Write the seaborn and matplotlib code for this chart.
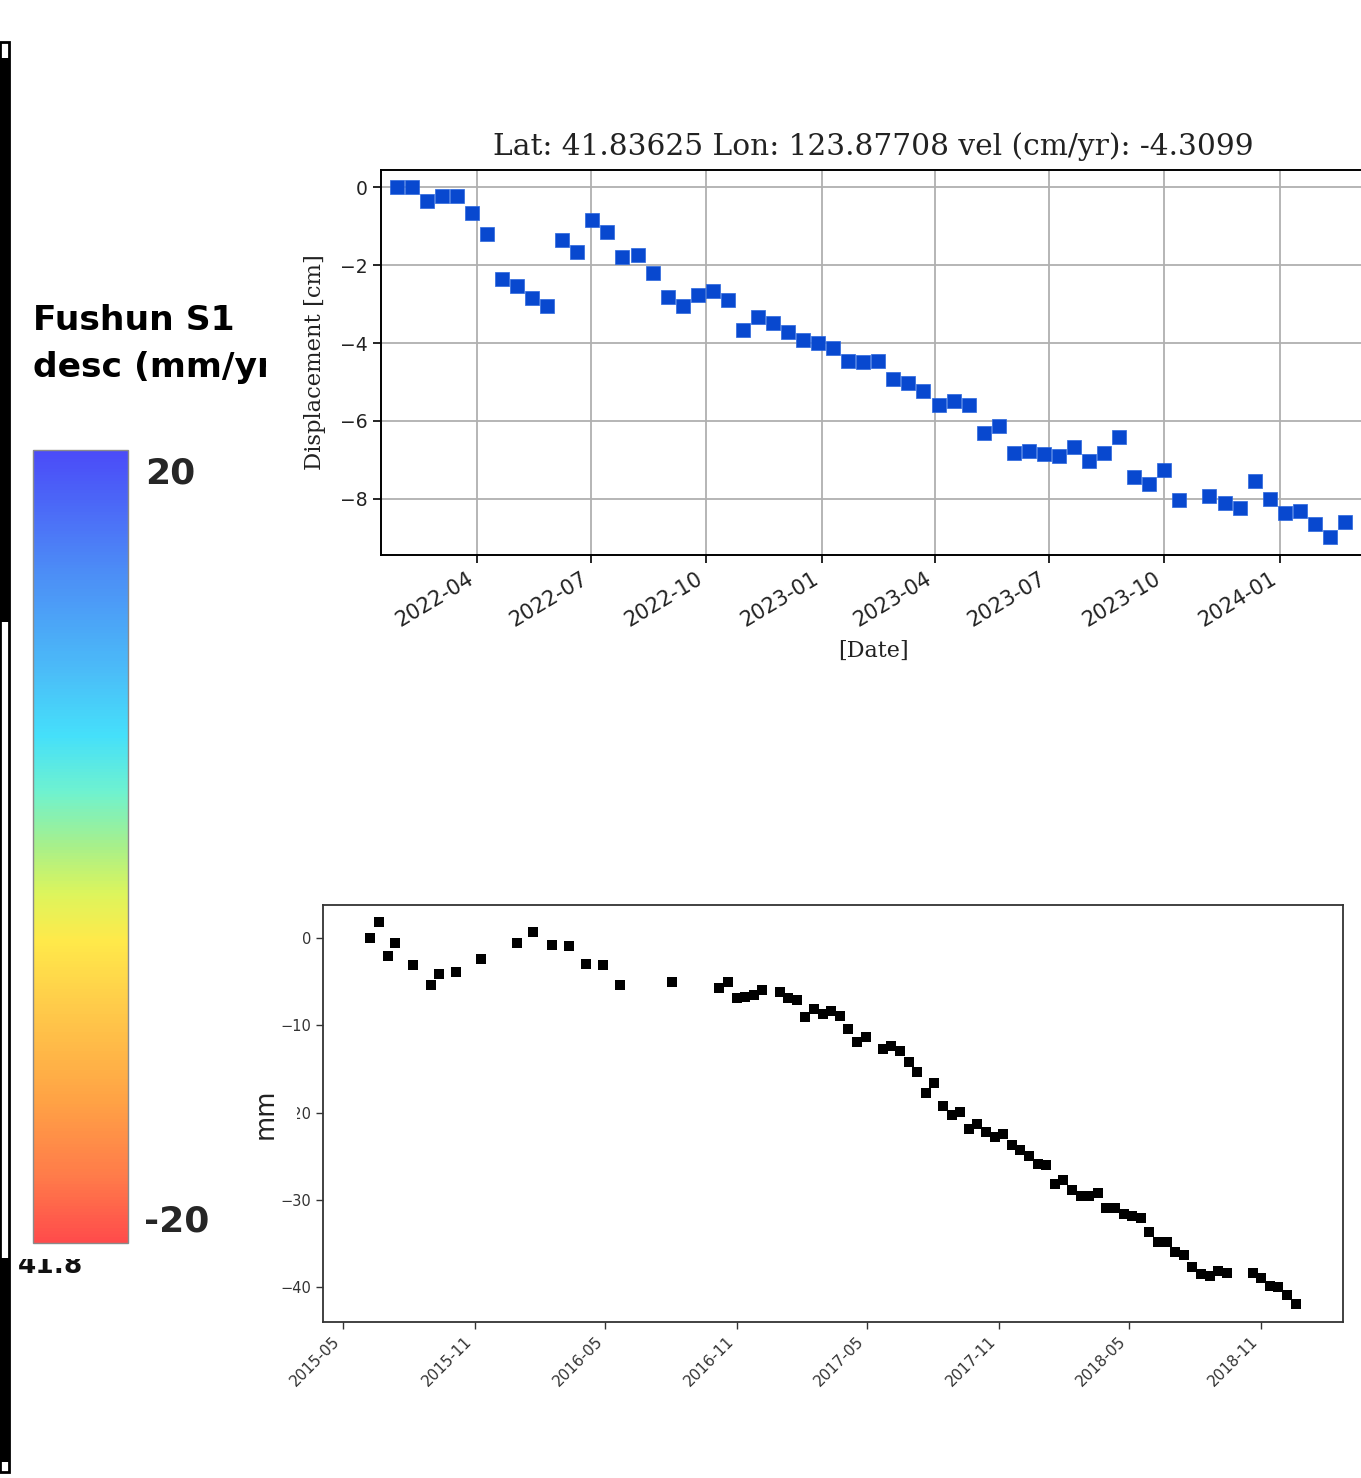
import numpy as np
import pandas as pd
import matplotlib
matplotlib.use("Agg")
import matplotlib.pyplot as plt
import matplotlib.dates as mdates
import matplotlib.colorbar as mcolorbar
import seaborn as sns
from matplotlib.colors import LinearSegmentedColormap, Normalize
from matplotlib.patches import Rectangle
from matplotlib.transforms import Bbox, TransformedBbox

# ---------------- data ----------------
top_title = "Lat: 41.83625 Lon: 123.87708 vel (cm/yr): -4.3099"
top_dates = ["2022-01-27", "2022-02-08", "2022-02-20", "2022-03-04", "2022-03-16", "2022-03-28",
             "2022-04-09", "2022-04-21", "2022-05-03", "2022-05-15", "2022-05-27", "2022-06-08",
             "2022-06-20", "2022-07-02", "2022-07-14", "2022-07-26", "2022-08-07", "2022-08-19",
             "2022-08-31", "2022-09-12", "2022-09-24", "2022-10-06", "2022-10-18", "2022-10-30",
             "2022-11-11", "2022-11-23", "2022-12-05", "2022-12-17", "2022-12-29", "2023-01-10",
             "2023-01-22", "2023-02-03", "2023-02-15", "2023-02-27", "2023-03-11", "2023-03-23",
             "2023-04-04", "2023-04-16", "2023-04-28", "2023-05-10", "2023-05-22", "2023-06-03",
             "2023-06-15", "2023-06-27", "2023-07-09", "2023-07-21", "2023-08-02", "2023-08-14",
             "2023-08-26", "2023-09-07", "2023-09-19", "2023-10-01", "2023-10-13", "2023-11-06",
             "2023-11-18", "2023-11-30", "2023-12-12", "2023-12-24", "2024-01-05", "2024-01-17",
             "2024-01-29", "2024-02-10", "2024-02-22"]
top_disp_cm = [0.0, 0.0, -0.36, -0.23, -0.23, -0.66, -1.2, -2.35, -2.54, -2.85, -3.04, -1.36,
               -1.67, -0.85, -1.16, -1.79, -1.73, -2.2, -2.81, -3.04, -2.77, -2.66, -2.9, -3.67,
               -3.34, -3.49, -3.73, -3.92, -3.99, -4.13, -4.46, -4.5, -4.47, -4.92, -5.03, -5.22,
               -5.58, -5.5, -5.58, -6.32, -6.12, -6.83, -6.77, -6.85, -6.89, -6.67, -7.04, -6.81,
               -6.42, -7.43, -7.62, -7.27, -8.03, -7.92, -8.11, -8.24, -7.53, -8.0, -8.37, -8.32,
               -8.64, -8.99, -8.6]
top_yticks = [0, -2, -4, -6, -8]

bot_dates = ["2015-06-07", "2015-06-20", "2015-07-02", "2015-07-13", "2015-08-07", "2015-08-31",
             "2015-09-12", "2015-10-05", "2015-11-10", "2015-12-29", "2016-01-21", "2016-02-16",
             "2016-03-11", "2016-04-04", "2016-04-28", "2016-05-21", "2016-08-02", "2016-10-07",
             "2016-10-19", "2016-10-31", "2016-11-12", "2016-11-24", "2016-12-06", "2016-12-30",
             "2017-01-11", "2017-01-23", "2017-02-04", "2017-02-16", "2017-02-28", "2017-03-12",
             "2017-03-24", "2017-04-05", "2017-04-17", "2017-04-29", "2017-05-23", "2017-06-04",
             "2017-06-16", "2017-06-28", "2017-07-10", "2017-07-22", "2017-08-03", "2017-08-15",
             "2017-08-27", "2017-09-08", "2017-09-20", "2017-10-02", "2017-10-14", "2017-10-26",
             "2017-11-07", "2017-11-19", "2017-12-01", "2017-12-13", "2017-12-25", "2018-01-06",
             "2018-01-18", "2018-01-30", "2018-02-11", "2018-02-23", "2018-03-07", "2018-03-19",
             "2018-03-31", "2018-04-12", "2018-04-24", "2018-05-06", "2018-05-18", "2018-05-30",
             "2018-06-11", "2018-06-23", "2018-07-05", "2018-07-17", "2018-07-29", "2018-08-10",
             "2018-08-22", "2018-09-03", "2018-09-15", "2018-10-21", "2018-11-02", "2018-11-14",
             "2018-11-26", "2018-12-08", "2018-12-20"]
bot_disp_mm = [0.0, 1.8, -2.1, -0.6, -3.1, -5.35, -4.13, -3.83, -2.37, -0.5, 0.69, -0.73,
               -0.88, -2.94, -3.13, -5.35, -5.0, -5.66, -5.05, -6.81, -6.73, -6.54, -5.89, -6.16,
               -6.81, -7.04, -9.03, -8.14, -8.72, -8.37, -8.94, -10.47, -11.9, -11.32, -12.73, -12.35,
               -12.92, -14.18, -15.33, -17.7, -16.59, -19.27, -20.3, -19.88, -21.83, -21.26, -22.22, -22.79,
               -22.41, -23.74, -24.24, -25.0, -25.84, -26.03, -28.21, -27.75, -28.82, -29.59, -29.59, -29.2,
               -30.88, -30.88, -31.57, -31.88, -32.07, -33.68, -34.83, -34.83, -35.98, -36.35, -37.69, -38.53,
               -38.76, -38.15, -38.38, -38.38, -38.91, -39.91, -39.99, -40.87, -41.9]
bot_yticks = [0, -10, -20, -30, -40]

cbar_title = ["Fushun S1", "desc (mm/yr)"]
cbar_min, cbar_max = -20, 20
cbar_colors = ["#FF4B4B", "#FF7A4A", "#FFA345", "#FFCC4A", "#FFE94A", "#DDF55C",
               "#A8F08A", "#6EF2D0", "#45E0FA", "#4BBDF8", "#4C8CF6", "#4B4BF8"]
cbar_stops = [0.0, 0.08, 0.18, 0.30, 0.38, 0.44, 0.50, 0.57, 0.64, 0.72, 0.85, 1.0]
map_lat_label = "41.8"

# ---------------- figure ----------------
W, H = 1361, 1478
sns.set_theme(style="ticks")
plt.rcParams["font.family"] = ["DejaVu Sans"]
plt.rcParams["axes.unicode_minus"] = True

fig = plt.figure(figsize=(W / 100, H / 100), dpi=100)
fig.patch.set_facecolor("white")


def frac(x0, y0, x1, y1):
    return [x0 / W, 1 - y1 / H, (x1 - x0) / W, (y1 - y0) / H]


def fx(x):
    return x / W


def fy(y):
    return 1 - y / H


def clipbox(x0, y0, x1, y1):
    return TransformedBbox(Bbox.from_extents(fx(x0), fy(y1), fx(x1), fy(y0)), fig.transFigure)


# ---- left map frame remnant ----
fig.add_artist(Rectangle((fx(0), fy(1472)), fx(9), fy(42) - fy(1472), transform=fig.transFigure,
                         facecolor="white", edgecolor="black", lw=2.0, zorder=1))
fig.add_artist(Rectangle((fx(0), fy(622)), fx(9), fy(58) - fy(622), transform=fig.transFigure,
                         facecolor="black", edgecolor="black", lw=0, zorder=2))
fig.add_artist(Rectangle((fx(0), fy(1462)), fx(9), fy(1258) - fy(1462), transform=fig.transFigure,
                         facecolor="black", edgecolor="black", lw=0, zorder=2))
t = fig.text(fx(18), fy(1273), map_lat_label, fontsize=19, fontweight="bold", color="#111111",
             ha="left", va="baseline")
t.set_clip_box(clipbox(0, 1259, 200, 1300))
t.set_clip_on(True)

# ---- colorbar legend ----
for i, line in enumerate(cbar_title):
    tt = fig.text(fx(33), fy(321 + 46 * i), line, fontsize=24.8, fontweight="bold", color="black",
                  ha="left", va="center")
    tt.set_clip_box(clipbox(0, 250, 266, 420))
    tt.set_clip_on(True)

cmap = LinearSegmentedColormap.from_list("fushun", list(zip(cbar_stops, cbar_colors)))
cax = fig.add_axes(frac(33, 450, 128, 1243))
cb = mcolorbar.ColorbarBase(cax, cmap=cmap, norm=Normalize(cbar_min, cbar_max), orientation="vertical")
cb.set_ticks([])
cb.outline.set_edgecolor("#8a8a8a")
cb.outline.set_linewidth(1.0)
fig.text(fx(145), fy(474), str(cbar_max), fontsize=26, fontweight="bold", ha="left", va="center")
fig.text(fx(144), fy(1221), str(cbar_min), fontsize=26, fontweight="bold", ha="left", va="center")

# ---- top time series ----
top_df = pd.DataFrame({"date": pd.to_datetime(top_dates), "disp": top_disp_cm})
ax1 = fig.add_axes(frac(381, 170, 1365, 555))
sns.scatterplot(data=top_df, x="date", y="disp", marker="s", s=100, color="#0848CF",
                edgecolor="#2a66dd", linewidth=0.5, ax=ax1, zorder=3)
ax1.set_xlim(pd.Timestamp("2022-01-14 12:00"), pd.Timestamp("2024-03-09"))
ax1.set_ylim(-9.44, 0.44)
ax1.set_yticks(top_yticks)
ax1.xaxis.set_major_locator(mdates.MonthLocator(bymonth=[1, 4, 7, 10]))
ax1.xaxis.set_major_formatter(mdates.DateFormatter("%Y-%m"))
ax1.grid(True, color="#b0b0b0", lw=1.3)
ax1.set_axisbelow(True)
for sp in ax1.spines.values():
    sp.set_color("black")
    sp.set_linewidth(1.4)
ax1.tick_params(axis="y", labelsize=13.5, length=6, width=1.2, color="black", labelcolor="#222222")
ax1.tick_params(axis="x", labelsize=15, length=6, width=1.2, color="black", labelcolor="#222222")
plt.setp(ax1.get_xticklabels(), rotation=31, ha="right")
ax1.set_title(top_title, family="DejaVu Serif", fontsize=21.3, pad=11, color="#222222")
ax1.set_ylabel("Displacement [cm]", family="DejaVu Serif", fontsize=16.3, labelpad=10, color="#222222")
ax1.set_xlabel("[Date]", family="DejaVu Serif", fontsize=16, labelpad=7, color="#222222")

# ---- bottom time series ----
bot_df = pd.DataFrame({"date": pd.to_datetime(bot_dates), "disp": bot_disp_mm})
ax2 = fig.add_axes(frac(323, 905, 1343, 1322))
sns.scatterplot(data=bot_df, x="date", y="disp", marker="s", s=52, color="black",
                linewidth=0, ax=ax2, zorder=3)
ax2.set_xlim(pd.Timestamp("2015-04-03"), pd.Timestamp("2019-02-24"))
ax2.set_ylim(-44.0, 3.8)
ax2.set_yticks(bot_yticks)
ax2.xaxis.set_major_locator(mdates.MonthLocator(bymonth=[5, 11]))
ax2.xaxis.set_major_formatter(mdates.DateFormatter("%Y-%m"))
for sp in ax2.spines.values():
    sp.set_color("#333333")
    sp.set_linewidth(1.3)
ax2.tick_params(axis="y", labelsize=10.5, length=5, width=1.0, color="#333333", labelcolor="#333333")
ax2.tick_params(axis="x", labelsize=11, length=5, width=1.0, color="#333333", labelcolor="#333333")
plt.setp(ax2.get_xticklabels(), rotation=45, ha="right")
ax2.set_xlabel("")
ax2.set_ylabel("mm", fontsize=18.5, labelpad=1, color="#222222")
# the screenshot's label box hides the left part of the "-20" tick label
fig.add_artist(Rectangle((fx(280), fy(1124)), fx(17), fy(1101) - fy(1124), transform=fig.transFigure,
                         facecolor="white", edgecolor="none", zorder=5))

fig.savefig("out.png", dpi=100, facecolor="white")
